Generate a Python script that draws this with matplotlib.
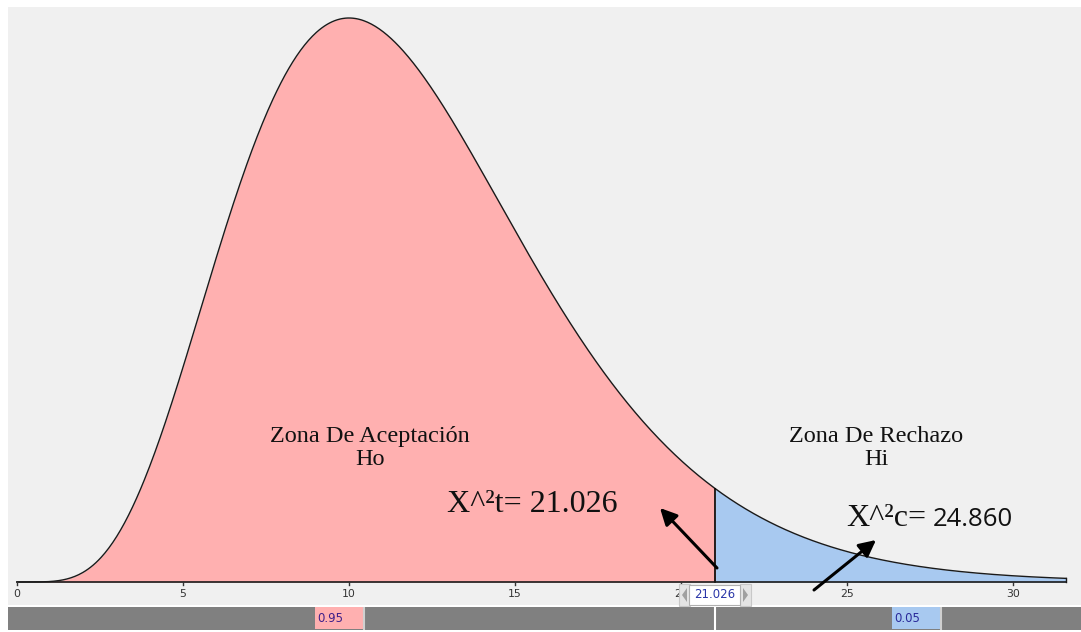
import math
import numpy as np
import matplotlib
matplotlib.use("Agg")
import matplotlib.pyplot as plt
from matplotlib.patches import Rectangle, Polygon

# ---- data ----
df = 12
alpha_accept = 0.95
alpha_reject = 0.05
x_critical = 21.026      # X^2 tabla
x_calc = 24.860          # X^2 calculado
x_max = 31.6
tick_values = [0, 5, 10, 15, 20, 25, 30]
tick_labels = ["0", "5", "10", "15", "20", "25", "30"]
label_accept = "Zona De Aceptación\nHo"
label_reject = "Zona De Rechazo\nHi"
label_t = "X^²t= 21.026"
label_c_a = "X^²c="
label_c_b = "24.860"

def chi2_pdf(x, k):
    x = np.asarray(x, dtype=float)
    return np.where(x > 0, np.power(np.maximum(x, 1e-12), k / 2 - 1) * np.exp(-x / 2)
                    / (2 ** (k / 2) * math.gamma(k / 2)), 0.0)

# ---- layout (pixels) ----
W, H = 1081, 632
PX0, PPU = 17.0, 33.2
BASE_PX, PEAK_PX = 582.0, 18.0
peak = float(chi2_pdf(df - 2, df))

def dx(px):
    return (px - PX0) / PPU

def dy(py):
    return (BASE_PX - py) * peak / (BASE_PX - PEAK_PX)

fig = plt.figure(figsize=(W / 100, H / 100), dpi=100, facecolor="white")

def frect(x0, y0, x1, y1, **kw):
    r = Rectangle((x0 / W, 1 - y1 / H), (x1 - x0) / W, (y1 - y0) / H,
                  transform=fig.transFigure, **kw)
    fig.add_artist(r)
    return r

PANEL_TOP, PANEL_BOT = 7, 605
ax = fig.add_axes([8 / W, 1 - PANEL_BOT / H, (W - 8) / W, (PANEL_BOT - PANEL_TOP) / H])
ax.set_facecolor("#f0f0f0")
ax.set_xlim(dx(8), dx(W))
ax.set_ylim(dy(PANEL_BOT), dy(PANEL_TOP))
for s in ax.spines.values():
    s.set_visible(False)
ax.set_xticks([])
ax.set_yticks([])

x = np.linspace(0, x_max, 800)
y = chi2_pdf(x, df)
pink = "#ffb0b0"
blue = "#a8c9f0"
m1 = x <= x_critical
m2 = x >= x_critical
ax.fill_between(x, 0, y, where=m1, color=pink, lw=0, interpolate=True)
ax.fill_between(x, 0, y, where=m2, color=blue, lw=0, interpolate=True)
ax.plot(x, y, color="#1a1a1a", lw=1.0)
yc = float(chi2_pdf(x_critical, df))
ax.plot([x_critical, x_critical], [0, yc], color="black", lw=1.2)
ax.plot([x_max, x_max], [0, float(chi2_pdf(x_max, df))], color="#1a1a1a", lw=1.0)
# baseline and ticks
ax.plot([0, x_max], [0, 0], color="#1a1a1a", lw=1.2)
for tv, tl in zip(tick_values, tick_labels):
    ax.plot([tv, tv], [dy(BASE_PX + 3), 0], color="#333333", lw=1)
    ax.text(tv, dy(594), tl, ha="center", va="center", fontsize=7.8,
            color="#333333", family="DejaVu Sans")

# zone labels
serif = "Liberation Serif"
ax.text(dx(370), dy(448), label_accept, ha="center", va="center", fontsize=17.5,
        family=serif, color="#111111", linespacing=1.15)
ax.text(dx(876), dy(448), label_reject, ha="center", va="center", fontsize=17.5,
        family=serif, color="#111111", linespacing=1.15)
ax.text(dx(447), dy(505), label_t, ha="left", va="center", fontsize=23,
        family=serif, color="#111111")
ax.text(dx(846), dy(518), label_c_a, ha="left", va="center", fontsize=23,
        family=serif, color="#111111")
ax.text(dx(933), dy(519), label_c_b, ha="left", va="center", fontsize=18.5,
        family="Open Sans", color="#111111")

# arrows
ax.annotate("", xy=(dx(660), dy(508)), xytext=(dx(717), dy(568)),
            arrowprops=dict(arrowstyle="-|>,head_length=1.0,head_width=0.5",
                            color="black", lw=2.2, shrinkA=0, shrinkB=0))
ax.annotate("", xy=(dx(876), dy(540)), xytext=(dx(814), dy(590)),
            arrowprops=dict(arrowstyle="-|>,head_length=1.0,head_width=0.5",
                            color="black", lw=2.2, shrinkA=0, shrinkB=0))

# bottom probability bar
bar = fig.add_axes([8 / W, 1 - 630 / H, (W - 8) / W, 23 / H])
bar.set_facecolor("#808080")
bar.set_xlim(dx(8), dx(W))
bar.set_ylim(0, 1)
for s in bar.spines.values():
    s.set_visible(False)
bar.set_xticks([])
bar.set_yticks([])
bar.axvline(x_critical, color="white", lw=1.5)
bar.axvspan(dx(315), dx(363), ymin=0.04, ymax=1, color=pink, lw=0)
bar.axvline(dx(364.5), color="#d0d0d0", lw=1.5)
bar.axvspan(dx(892), dx(940), ymin=0.04, ymax=1, color=blue, lw=0)
bar.axvline(dx(941.5), color="#d0d0d0", lw=1.5)
bar.text(dx(317), 0.5, f"{alpha_accept:.2f}", ha="left", va="center", fontsize=8.5,
         color="#40208a", family="DejaVu Sans")
bar.text(dx(894), 0.5, f"{alpha_reject:.2f}", ha="left", va="center", fontsize=8.5,
         color="#2a2a9a", family="DejaVu Sans")

# spin box over the critical value
frect(679, 584, 690, 606, facecolor="#e4e4e4", edgecolor="#c8c8c8", lw=0.8)
frect(740, 584, 751, 606, facecolor="#e4e4e4", edgecolor="#c8c8c8", lw=0.8)
frect(689, 585, 740, 605, facecolor="white", edgecolor="#b0b0b0", lw=0.8)
for pts in ([(687, 588), (682, 595), (687, 602)], [(743, 588), (748, 595), (743, 602)]):
    fig.add_artist(Polygon([(px / W, 1 - py / H) for px, py in pts], closed=True,
                           transform=fig.transFigure, facecolor="#a0a0a0", edgecolor="none"))
fig.text(714.5 / W, 1 - 595 / H, f"{x_critical:.3f}", ha="center", va="center",
         fontsize=8.5, color="#2a36a8", family="DejaVu Sans")

fig.savefig("out.png", dpi=100, facecolor="white")
